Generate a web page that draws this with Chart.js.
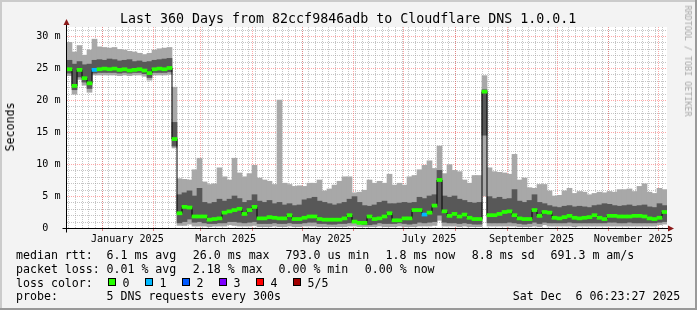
<!DOCTYPE html>
<html>
<head>
<meta charset="utf-8">
<script src="https://cdn.jsdelivr.net/npm/chart.js@4.4.1/dist/chart.umd.min.js"></script>
<style>
    html, body { margin: 0; padding: 0; background: #f3f3f3; }
    #wrap { position: relative; width: 697px; height: 310px; overflow: hidden;
            font-family: 'DejaVu Sans Mono', monospace; color: #000; }
    #chart { position: absolute; left: 0; top: 0; }
    .t { position: absolute; white-space: pre; font-size: 11.6px; line-height: 14px; }
    .box { position: absolute; width: 6px; height: 6px; border: 1px solid #000; }
</style>
</head>
<body>
<div id="wrap">
    <canvas id="chart" width="697" height="310"></canvas>
    <div id="title" class="t" style="left:120px; top:11.4px; font-size:13.3px; line-height:16px;">Last 360 Days from 82ccf9846adb to Cloudflare DNS 1.0.0.1</div>
    <div class="t" style="left:10px; top:127px; transform:translate(-50%,-50%) rotate(-90deg);">Seconds</div>
    <div class="t" style="left:688px; top:61px; font-size:8.4px; line-height:10px; color:#a8a8a8; transform:translate(-50%,-50%) rotate(90deg);">RRDTOOL / TOBI OETIKER</div>
    <div id="legend"></div>
</div>
<script>
// one bin = 3 days, 120 bins = 360 days (Dec 11 2024 .. Dec 6 2025)
const binDays = 3;

// smoke: 5 sorted pings per bin -> min, 2nd, median, 4th, max (milliseconds)
const smokeMax = [
    29.0, 27.5, 28.5, 27.0, 27.8, 29.5, 28.3, 28.2, 28.1, 28.2, 27.9, 27.8, 27.6, 27.5, 27.3, 27.1, 27.3, 27.8, 28.0, 28.1, 28.2, 22.0,
    7.7, 7.6, 7.5, 9.1, 10.9, 7.2, 6.8, 6.9, 9.4, 8.0, 7.5, 10.9, 8.6, 8.0, 8.5, 9.8, 7.8, 7.5, 7.3, 6.8, 20.0, 7.0, 6.8, 6.5, 6.6,
    6.5, 7.0, 7.0, 7.5, 5.8, 6.1, 6.7, 7.3, 8.0, 8.0, 5.5, 5.6, 5.9, 7.5, 7.0, 7.3, 7.0, 8.4, 6.7, 7.0, 6.7, 8.0, 8.2,
    9.1, 9.8, 10.5, 9.3, 12.8, 8.5, 9.9, 9.0, 8.8, 7.5, 7.0, 8.2, 8.2, 23.8, 9.4, 8.8, 8.7, 8.6, 8.4, 11.5, 7.5, 7.8, 6.3, 6.2, 6.8,
    6.8, 5.8, 5.0, 5.1, 5.8, 6.2, 5.4, 5.7, 5.6, 5.2, 5.4, 5.6, 5.5, 5.7, 5.6, 6.0, 6.0, 6.1, 5.7, 6.5, 6.9, 5.6, 5.4, 6.2, 6.0
];
const smokeHigh = [
    26.2, 25.6, 26.0, 25.5, 25.6, 26.2, 26.3, 26.2, 26.4, 26.3, 26.1, 26.2, 26.3, 26.0, 26.1, 25.9, 26.0, 26.2, 26.3, 26.4, 26.5, 16.5,
    5.2, 5.5, 5.8, 5.0, 6.2, 4.0, 3.8, 4.0, 4.5, 4.2, 4.5, 5.0, 4.6, 4.0, 4.3, 5.2, 4.2, 4.0, 4.3, 3.8, 4.0, 3.6, 3.8, 3.5, 3.6,
    4.4, 4.6, 4.8, 4.2, 4.0, 3.8, 3.6, 3.8, 4.0, 4.5, 4.9, 4.0, 3.5, 3.4, 3.6, 4.0, 4.2, 3.8, 3.8, 3.9, 4.0, 3.9, 4.0,
    4.8, 4.6, 5.0, 5.2, 9.0, 5.0, 4.8, 5.0, 4.5, 4.3, 4.0, 3.9, 4.0, 21.6, 4.9, 4.6, 4.8, 4.5, 4.6, 6.0, 4.2, 4.0, 4.3, 5.2, 4.0,
    3.8, 3.5, 3.3, 3.2, 3.4, 3.5, 3.3, 3.4, 3.3, 3.2, 3.5, 3.6, 3.8, 3.7, 3.5, 3.4, 3.5, 3.6, 3.4, 3.5, 3.6, 3.3, 3.2, 3.8, 3.5
];
const medianRtt = [
    24.8, 22.2, 24.7, 23.4, 22.6, 24.7, 24.8, 24.9, 24.8, 24.9, 24.7, 24.8, 24.6, 24.7, 24.8, 24.6, 24.2, 24.8, 24.9, 24.8, 25.0, 13.9,
    2.3, 3.3, 3.2, 1.8, 1.8, 1.8, 1.3, 1.4, 1.5, 2.4, 2.6, 2.8, 3.0, 2.2, 2.8, 3.3, 1.5, 1.5, 1.7, 1.6, 1.5, 1.5, 2.0, 1.4, 1.4,
    1.6, 1.8, 1.8, 1.4, 1.3, 1.3, 1.3, 1.3, 1.5, 2.0, 1.0, 0.8, 0.8, 1.8, 1.4, 1.5, 1.8, 2.3, 1.2, 1.2, 1.5, 1.5, 2.8,
    2.8, 2.1, 2.4, 3.5, 7.5, 2.6, 1.9, 2.2, 1.8, 2.1, 1.6, 1.4, 1.4, 21.3, 2.0, 2.0, 2.2, 2.5, 2.6, 2.0, 1.5, 1.4, 1.4, 2.8, 1.9,
    2.5, 2.4, 1.6, 1.5, 1.7, 1.9, 1.6, 1.5, 1.6, 1.7, 2.0, 1.6, 1.4, 1.9, 1.9, 1.8, 1.8, 1.8, 1.9, 1.9, 1.8, 1.5, 1.4, 1.6, 2.5
];
const smokeLow = [
    24.2, 21.6, 23.6, 22.8, 21.8, 24.2, 24.3, 24.3, 24.3, 24.3, 24.2, 24.3, 24.2, 24.3, 24.3, 24.1, 23.5, 24.3, 24.3, 24.3, 24.4, 12.8,
    0.8, 1.0, 1.4, 0.9, 1.0, 0.8, 0.7, 0.7, 0.8, 0.8, 1.0, 1.0, 0.9, 0.8, 0.9, 1.0, 0.7, 0.7, 0.7, 0.8, 0.7, 0.7, 0.8, 0.7, 0.7,
    0.8, 0.9, 0.9, 0.7, 0.7, 0.6, 0.6, 0.7, 0.7, 0.8, 0.9, 0.7, 0.5, 0.5, 0.6, 0.8, 0.7, 0.7, 0.7, 0.8, 0.7, 0.6, 0.7,
    0.9, 0.8, 0.9, 1.0, 2.0, 0.9, 0.8, 0.8, 0.7, 0.8, 0.7, 0.6, 0.6, 14.5, 0.8, 0.8, 0.8, 0.8, 0.9, 0.8, 0.7, 0.6, 0.7, 0.9, 0.7,
    0.9, 0.8, 0.8, 0.8, 0.8, 0.9, 0.8, 0.8, 0.8, 0.8, 0.8, 0.8, 0.8, 0.9, 0.9, 0.8, 0.8, 0.9, 0.8, 0.8, 0.8, 0.8, 0.8, 0.9, 1.0
];
const smokeMin = [
    23.8, 20.9, 23.2, 22.3, 21.2, 23.9, 23.9, 23.9, 23.9, 23.9, 23.8, 23.9, 23.8, 23.9, 23.9, 23.7, 23.1, 23.9, 23.9, 23.9, 24.0, 12.5,
    0.4, 0.4, 0.6, 0.3, 0.3, 0.3, 0.2, 0.3, 0.3, 0.3, 0.5, 0.4, 0.3, 0.3, 0.3, 0.4, 0.2, 0.2, 0.2, 0.3, 0.2, 0.2, 0.3, 0.2, 0.2,
    0.3, 0.3, 0.3, 0.2, 0.2, 0.2, 0.2, 0.2, 0.2, 0.3, 0.3, 0.2, 0.2, 0.2, 0.2, 0.3, 0.2, 0.2, 0.2, 0.3, 0.2, 0.2, 0.2,
    0.3, 0.3, 0.3, 0.4, 1.2, 0.3, 0.3, 0.3, 0.2, 0.3, 0.2, 0.2, 0.2, 5.0, 0.3, 0.3, 0.3, 0.3, 0.3, 0.3, 0.2, 0.2, 0.2, 0.3, 0.2,
    0.5, 0.3, 0.3, 0.3, 0.3, 0.3, 0.2, 0.3, 0.3, 0.3, 0.3, 0.3, 0.3, 0.3, 0.3, 0.3, 0.3, 0.3, 0.3, 0.3, 0.3, 0.3, 0.3, 0.5, 0.6
];
// bins where 1 of the 5 pings got lost
const lossOneBins = [5, 71];

const lossColors = ['#26ff00', '#00b8ff', '#0059ff', '#7e00ff', '#ff0000', '#a10000'];
const lossLabels = ['0', '1', '2', '3', '4', '5/5'];

const monthLabels = ['January 2025', 'March 2025', 'May 2025', 'July 2025', 'September 2025', 'November 2025'];
const labelMonths = [0, 2, 4, 6, 8, 10];
const yTickValues = [0, 5, 10, 15, 20, 25, 30];
const yTickLabels = [' 0  ', ' 5 m', '10 m', '15 m', '20 m', '25 m', '30 m'];

const startMs = Date.UTC(2024, 11, 11, 6, 23, 27);
const DAY = 86400000;
function dayOfMonthStart(m) {
    return (Date.UTC(2025, m, 1) - startMs) / DAY;
}
const labelDays = labelMonths.map(m => (dayOfMonthStart(m) + dayOfMonthStart(m + 1)) / 2);

function binCenter(i) {
    return (i + 0.5) * binDays;
}
function floating(lo, hi) {
    return lo.map((v, i) => ({ x: binCenter(i), y: [v, hi[i]] }));
}

const monoFont = "'DejaVu Sans Mono', monospace";

const rrdFrame = {
    id: 'rrdFrame',
    beforeDraw(chart) {
        const { ctx, chartArea: a, scales: { x, y } } = chart;
        ctx.save();
        ctx.fillStyle = '#f3f3f3';
        ctx.fillRect(0, 0, chart.width, chart.height);
        ctx.fillStyle = '#cbcbcb';
        ctx.fillRect(0, 0, chart.width, 2);
        ctx.fillRect(0, 0, 2, chart.height);
        ctx.fillStyle = '#999';
        ctx.fillRect(0, chart.height - 2, chart.width, 2);
        ctx.fillRect(chart.width - 2, 0, 2, chart.height);

        ctx.fillStyle = '#fff';
        ctx.fillRect(a.left, a.top, a.right - a.left, a.bottom - a.top);

        ctx.lineWidth = 1;
        ctx.setLineDash([1, 1]);
        const hline = (v) => {
            const py = Math.round(y.getPixelForValue(v)) + 0.5;
            ctx.beginPath(); ctx.moveTo(a.left, py); ctx.lineTo(a.right, py); ctx.stroke();
        };
        const vline = (d) => {
            const px = Math.round(x.getPixelForValue(d)) + 0.5;
            ctx.beginPath(); ctx.moveTo(px, a.top); ctx.lineTo(px, a.bottom); ctx.stroke();
        };
        // minor grid
        ctx.strokeStyle = 'rgba(150,150,150,0.55)';
        for (let v = 1; v < 31.4; v++) if (v % 5) hline(v);
        const jan1 = dayOfMonthStart(0);
        for (let d = jan1 - 20; d < 360; d += 4) if (d > 0.5) vline(d);
        // major grid
        ctx.strokeStyle = 'rgba(255,60,60,0.45)';
        for (let v = 5; v < 31.4; v += 5) hline(v);
        for (let m = 0; m < 12; m++) vline(dayOfMonthStart(m));
        ctx.restore();
    },
    afterDatasetsDraw(chart) {
        const { ctx, chartArea: a, scales: { x } } = chart;
        ctx.save();
        // month ticks below the axis
        ctx.strokeStyle = '#e08080';
        ctx.lineWidth = 1;
        for (let m = 0; m < 12; m++) {
            const px = Math.round(x.getPixelForValue(dayOfMonthStart(m))) + 0.5;
            ctx.beginPath(); ctx.moveTo(px, a.bottom); ctx.lineTo(px, a.bottom + 3); ctx.stroke();
        }
        ctx.strokeStyle = '#000';
        const bx = Math.round(a.left) - 0.5, by = Math.round(a.bottom) + 0.5;
        ctx.beginPath();
        ctx.moveTo(bx - 4, by); ctx.lineTo(a.right + 2, by);
        ctx.moveTo(bx, by + 4); ctx.lineTo(bx, a.top - 3);
        ctx.stroke();
        // arrows
        ctx.fillStyle = '#8b1a1a';
        ctx.beginPath();
        ctx.moveTo(bx - 3, a.top - 2); ctx.lineTo(bx + 3, a.top - 2); ctx.lineTo(bx, a.top - 8); ctx.closePath(); ctx.fill();
        ctx.beginPath();
        ctx.moveTo(a.right + 1, by - 3); ctx.lineTo(a.right + 1, by + 3); ctx.lineTo(a.right + 7, by); ctx.closePath(); ctx.fill();
        ctx.restore();
    }
};

new Chart(document.getElementById('chart'), {
    type: 'bar',
    data: {
        datasets: [
            {
                label: 'median',
                data: floating(medianRtt.map(v => v - 0.24), medianRtt.map(v => v + 0.24)),
                backgroundColor: ctx => lossOneBins.includes(ctx.dataIndex) ? lossColors[1] : lossColors[0],
                order: 0
            },
            {
                type: 'line',
                label: 'median line',
                data: medianRtt.map((v, i) => ({ x: binCenter(i), y: v })),
                borderColor: '#000',
                borderWidth: 1,
                pointRadius: 0,
                stepped: 'middle',
                fill: false,
                order: 1
            },
            {
                label: 'inner smoke',
                data: floating(smokeLow, smokeHigh),
                backgroundColor: '#585858',
                order: 2
            },
            {
                label: 'outer smoke',
                data: floating(smokeMin, smokeMax),
                backgroundColor: '#a8a8a8',
                order: 3
            }
        ]
    },
    options: {
        responsive: false,
        animation: false,
        events: [],
        layout: { padding: { left: 0, right: 30, top: 27, bottom: 0 } },
        datasets: {
            bar: { grouped: false, barPercentage: 1, categoryPercentage: 1, borderWidth: 0 }
        },
        plugins: {
            legend: { display: false },
            tooltip: { enabled: false }
        },
        scales: {
            x: {
                type: 'linear',
                min: 0,
                max: 360,
                offset: false,
                grid: { display: false, drawTicks: false },
                border: { display: false },
                afterBuildTicks: s => { s.ticks = labelDays.map(v => ({ value: v })); },
                afterFit: s => { s.height = 82; },
                ticks: {
                    autoSkip: false,
                    maxRotation: 0,
                    padding: 5,
                    color: '#000',
                    font: { family: monoFont, size: 10.1 },
                    callback: (v, i) => monthLabels[i]
                }
            },
            y: {
                min: 0,
                max: 31.4,
                grid: { display: false, drawTicks: false },
                border: { display: false },
                afterBuildTicks: s => { s.ticks = yTickValues.map(v => ({ value: v })); },
                afterFit: s => { s.width = 67; },
                ticks: {
                    padding: 6.5,
                    color: '#000',
                    font: { family: monoFont, size: 10.1 },
                    callback: (v, i) => yTickLabels[i]
                }
            }
        }
    },
    plugins: [rrdFrame]
});

// legend block below the graph, laid out like rrdtool's GPRINT lines
const legendRows = [
    [247.5, [[16, 'median rtt:'], [106.5, '6.1 ms avg'], [192.8, '26.0 ms max'], [285.5, '793.0 us min'],
             [385.5, '1.8 ms now'], [471.8, '8.8 ms sd'], [550.5, '691.3 m am/s']]],
    [261.5, [[16, 'packet loss:'], [106.5, '0.01 % avg'], [192.8, '2.18 % max'], [278.5, '0.00 % min'], [364.8, '0.00 % now']]],
    [275.5, [[16, 'loss color:']]],
    [289.3, [[16, 'probe:'], [106.5, '5 DNS requests every 300s'], [512.8, 'Sat Dec  6 06:23:27 2025']]]
];
const legend = document.getElementById('legend');
legendRows.forEach(([top, parts]) => {
    parts.forEach(([left, text]) => {
        const el = document.createElement('div');
        el.className = 't';
        el.style.left = left + 'px';
        el.style.top = top + 'px';
        el.textContent = text;
        legend.appendChild(el);
    });
});
lossLabels.forEach((label, i) => {
    const bx = 108 + i * 37;
    const box = document.createElement('div');
    box.className = 'box';
    box.style.left = bx + 'px';
    box.style.top = '277.5px';
    box.style.background = lossColors[i];
    legend.appendChild(box);
    const el = document.createElement('div');
    el.className = 't';
    el.style.left = (bx + 14.5) + 'px';
    el.style.top = '275.5px';
    el.textContent = label;
    legend.appendChild(el);
});
</script>
</body>
</html>
